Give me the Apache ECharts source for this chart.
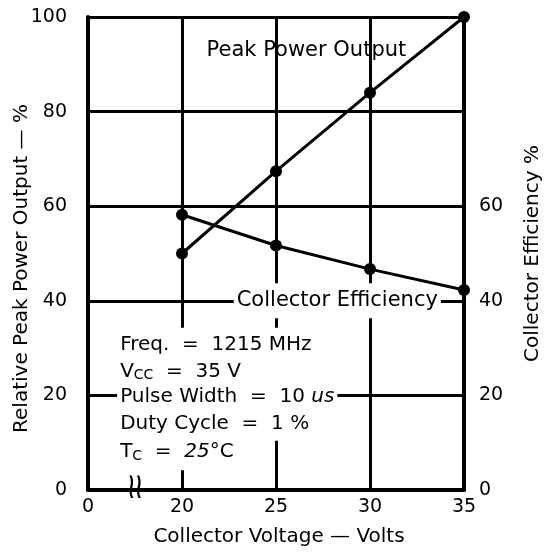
<!DOCTYPE html>
<html><head><meta charset="utf-8">
<script src="https://cdn.jsdelivr.net/npm/echarts@6/dist/echarts.min.js"></script>
<style>html,body{margin:0;padding:0;background:#fff}#c{width:546px;height:553px}</style>
</head><body><div id="c"></div>
<script>
const voltages = [20, 25, 30, 35];
const peakPower = [50, 67.4, 84, 100];
const efficiency = [58.2, 51.7, 46.7, 42.3];
const xTickValues = [15, 20, 25, 30, 35];
const xTickLabels = ['0', '20', '25', '30', '35'];
const leftTicks = [0, 20, 40, 60, 80, 100];
const rightTicks = [0, 20, 40, 60];

const FONT = '"DejaVu Sans", "Liberation Sans", Arial, sans-serif';
const chart = echarts.init(document.getElementById('c'), null, {renderer: 'canvas'});

const lineStyle = {color: '#000', width: 3};
const tickTxt = {color: '#000', fontFamily: FONT, fontSize: 19};
const titleTxt = {color: '#000', fontFamily: FONT, fontSize: 20};

function annot(coord, text, size, rich, bg, width) {
  const label = {show: true, position: 'right', distance: 0, formatter: text,
      color: '#000', fontFamily: FONT, fontSize: size,
      backgroundColor: bg ? '#fff' : 'transparent', padding: [7, 3, 7, 3], rich: rich || {}};
  if (width) label.width = width;
  return {coord: coord, symbol: 'circle', symbolSize: 0, label: label};
}
const sub = {fontSize: 14, fontFamily: FONT, color: '#000', verticalAlign: 'bottom', padding: [8, 0, 0, 0]};
const ital = {fontStyle: 'italic', fontFamily: FONT, fontSize: 20, color: '#000'};

chart.setOption({
  animation: false,
  backgroundColor: '#fff',
  grid: {left: 88, right: 82, top: 17, bottom: 63, outerBoundsMode: 'none', containLabel: false},
  xAxis: {
    type: 'value', min: 15, max: 35, interval: 5,
    axisLine: {show: true, onZero: false, lineStyle: {color: '#000', width: 4}},
    axisTick: {show: false},
    axisLabel: Object.assign({margin: 8, formatter: v => xTickLabels[xTickValues.indexOf(v)] ?? ''}, tickTxt),
    splitLine: {show: true, lineStyle: {color: '#000', width: 3}},
    name: 'Collector Voltage — Volts', nameLocation: 'middle', nameGap: 37,
    nameTextStyle: Object.assign({padding: [0, 0, 0, 6]}, titleTxt)
  },
  yAxis: [
    {type: 'value', min: 0, max: 100, interval: 20, position: 'left',
     axisLine: {show: true, lineStyle: {color: '#000', width: 4}},
     axisTick: {show: false},
     axisLabel: Object.assign({margin: 21, formatter: v => leftTicks.includes(v) ? String(v) : ''}, tickTxt),
     splitLine: {show: true, lineStyle: {color: '#000', width: 3}},
     name: 'Relative Peak Power Output — %', nameLocation: 'middle', nameGap: 56, nameMoveOverlap: false,
     nameTextStyle: Object.assign({padding: [0, 0, 0, -30]}, titleTxt)},
    {type: 'value', min: 0, max: 100, interval: 20, position: 'right',
     axisLine: {show: true, lineStyle: {color: '#000', width: 4}},
     axisTick: {show: false},
     axisLabel: Object.assign({margin: 15, formatter: v => rightTicks.includes(v) ? String(v) : ''}, tickTxt),
     splitLine: {show: false},
     name: 'Collector Efficiency %', nameLocation: 'middle', nameGap: 59,
     nameTextStyle: titleTxt}
  ],
  series: [
    {type: 'line', name: 'Peak Power Output', data: voltages.map((v, i) => [v, peakPower[i]]),
     symbol: 'circle', symbolSize: 12, itemStyle: {color: '#000'}, lineStyle: lineStyle, z: 5,
     markPoint: {silent: true, data: [
       annot([21.15, 93.0], 'Peak Power Output', 21, null, false),
       annot([22.75, 40], 'Collector Efficiency', 21, null, true),
       annot([16.55, 30.7], 'Freq.  =  1215 MHz', 20, null, true),
       annot([16.55, 25.0], 'V{s|CC}  =  35 V', 20, {s: sub}, true, 170),
       annot([16.55, 19.8], 'Pulse Width  =  10 {i|us}', 20, {i: ital}, true),
       annot([16.55, 14.0], 'Duty Cycle  =  1 %', 20, null, true),
       annot([16.55, 8.0], 'T{s|C}  =  {i|25}°C', 20, {s: sub, i: ital}, true)
     ]}},
    {type: 'line', name: 'Collector Efficiency', data: voltages.map((v, i) => [v, efficiency[i]]),
     symbol: 'circle', symbolSize: 12, itemStyle: {color: '#000'}, lineStyle: lineStyle, z: 5}
  ]
});
const p = chart.convertToPixel({xAxisIndex: 0, yAxisIndex: 0}, [17.5, 0]);
chart.setOption({graphic: [{type: 'text', x: p[0], y: p[1] - 1, z: 100, scaleX: 1, scaleY: 1.8,
  style: {text: '≀≀', font: 'bold 20px "DejaVu Sans"', fill: '#000', align: 'center', verticalAlign: 'middle'}}]});
</script></body></html>
